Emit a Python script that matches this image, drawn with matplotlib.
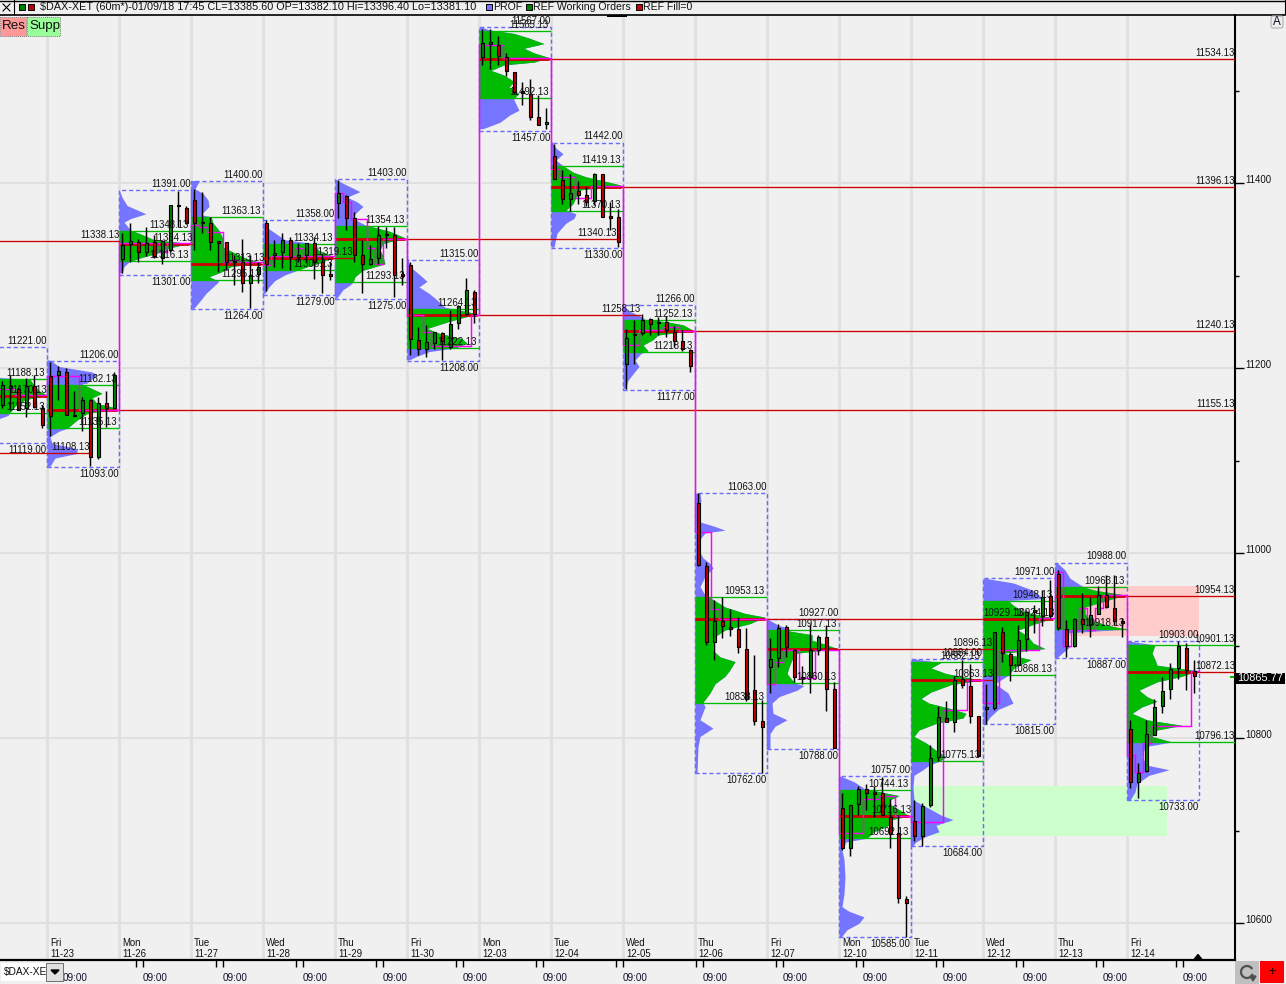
import numpy as np
import matplotlib
matplotlib.use("Agg")
import matplotlib.pyplot as plt
from matplotlib.patches import Rectangle, FancyBboxPatch
from matplotlib.ticker import MultipleLocator, FixedLocator, FixedFormatter
from matplotlib.transforms import ScaledTranslation

plt.rcParams['font.family'] = ['Liberation Sans', 'DejaVu Sans']

# ---------- session data ----------
DAYS = ["Fri\n11-23", "Mon\n11-26", "Tue\n11-27", "Wed\n11-28", "Thu\n11-29", "Fri\n11-30", "Mon\n12-03", "Tue\n12-04",
        "Wed\n12-05", "Thu\n12-06", "Fri\n12-07", "Mon\n12-10", "Tue\n12-11", "Wed\n12-12", "Thu\n12-13", "Fri\n12-14"]
HI = [11221, 11206, 11391, 11400, 11358, 11403, 11315, 11567, 11442, 11266, 11063, 10927, 10757, 10884, 10971, 10988, 10903]
LO = [11119, 11093, 11301, 11264, 11279, 11275, 11208, 11457, 11330, 11177, 10762, 10788, 10585, 10684, 10815, 10887, 10733]
VAH = [11188.13, 11182.13, 11348.13, 11363.13, 11334.13, 11354.13, 11264.13, 11565.13, 11419.13, 11252.13, 10953.13,
       10917.13, 10744.13, 10882.13, 10948.13, 10963.13, 10901.13]
POC = [11170.13, 11155.13, 11334.13, 11313.13, 11319.13, 11340.13, 11258.13, 11534.13, 11396.13, 11240.13, 10929.13,
       10896.13, 10716.13, 10863.13, 10929.13, 10954.13, 10872.13]
POC_LABEL = ["11170.13", "11155.13", "11334.13", "11313.13", "11319.13", "11340.13", "11258.13", "11534.13", "11396.13",
             "11240.13", "10929.13", "10896.13", "10716.13", "10863.13", "10924.13", "10954.13", "10872.13"]
POC_END = [0, 148.5, 18.25, 27.25, 38.25, 71.25, 74.25, 148.5, 148.5, 148.5, 122.1, 118.25, 108.1, 118.25, 126, 148.5, 148.5]
VAL = [11152.13, 11135.13, 11316.13, 11295.13, 11306.13, 11293.13, 11222.13, 11492.13, 11370.13, 11218.13, 10838.13,
       10860.13, 10692.13, 10775.13, 10868.13, 10918.13, 10796.13]
OLD_POC = [11338.13, 11108.13]
OLD_POC_END = [9.125, 5.375]
RES_ZONE = [126, 144, 10911, 10965]
SUP_ZONE = [108, 140, 10694, 10748.5]

# candles: open, high, low, close
C00 = [(11160, 11186, 11157, 11182), (11179, 11193, 11155, 11181), (11178, 11180, 11155, 11155),
       (11157, 11189, 11147, 11181), (11181, 11193, 11157, 11158), (11157, 11160, 11136, 11139)]
C01 = [(11192, 11207, 11127, 11148), (11193, 11202, 11166, 11197), (11196, 11200, 11149, 11150),
       (11148, 11175, 11148, 11150), (11152, 11169, 11132, 11166), (11166, 11167, 11094, 11104),
       (11104, 11169, 11102, 11163), (11163, 11175, 11137, 11157), (11157, 11196, 11157, 11193)]
C02 = [(11318, 11346, 11303, 11333), (11334, 11357, 11315, 11338), (11337, 11340, 11315, 11326),
       (11326, 11353, 11321, 11336), (11337, 11344, 11319, 11321), (11319, 11339, 11313, 11338),
       (11328, 11376, 11326, 11376), (11375, 11392, 11353, 11376), (11373, 11375, 11356, 11357)]
C03 = [(11382, 11394, 11328, 11357), (11357, 11391, 11346, 11358), (11357, 11364, 11328, 11337),
       (11337, 11337, 11304, 11336), (11337, 11337, 11306, 11315), (11316, 11322, 11290, 11315),
       (11315, 11340, 11282, 11292), (11292, 11322, 11265, 11301), (11302, 11315, 11292, 11310)]
C04 = [(11357, 11360, 11284, 11313), (11322, 11339, 11310, 11325), (11326, 11346, 11308, 11339),
       (11339, 11342, 11306, 11320), (11320, 11335, 11315, 11322), (11322, 11335, 11315, 11335),
       (11335, 11342, 11297, 11315), (11315, 11324, 11281, 11301), (11301, 11315, 11295, 11300)]
C05 = [(11379, 11404, 11362, 11390), (11386, 11387, 11349, 11363), (11362, 11369, 11315, 11322),
       (11322, 11339, 11281, 11313), (11313, 11333, 11312, 11318), (11319, 11354, 11313, 11344),
       (11345, 11353, 11330, 11344), (11344, 11353, 11277, 11301), (11301, 11319, 11290, 11300)]
C06 = [(11312, 11315, 11214, 11232), (11231, 11245, 11214, 11221), (11221, 11247, 11212, 11228),
       (11227, 11239, 11221, 11239), (11238, 11239, 11209, 11229), (11223, 11263, 11221, 11248),
       (11249, 11268, 11243, 11267), (11259, 11298, 11258, 11285), (11283, 11285, 11249, 11259)]
C07 = [(11537, 11567, 11528, 11552), (11551, 11567, 11524, 11552), (11550, 11559, 11528, 11538),
       (11537, 11541, 11516, 11521), (11520, 11520, 11497, 11499), (11499, 11509, 11485, 11498),
       (11497, 11513, 11468, 11472), (11472, 11495, 11463, 11463), (11464, 11481, 11459, 11466)]
C08 = [(11430, 11443, 11405, 11405), (11404, 11414, 11378, 11383), (11383, 11410, 11370, 11390),
       (11392, 11403, 11378, 11387), (11387, 11396, 11376, 11380), (11381, 11411, 11377, 11410),
       (11410, 11410, 11364, 11364), (11364, 11380, 11349, 11363), (11364, 11372, 11331, 11337)]
C09 = [(11205, 11242, 11178, 11233), (11236, 11252, 11205, 11237), (11238, 11259, 11236, 11252),
       (11253, 11254, 11236, 11248), (11249, 11256, 11236, 11250), (11250, 11257, 11234, 11241),
       (11239, 11246, 11223, 11230), (11229, 11241, 11219, 11221), (11220, 11221, 11196, 11202)]
C10 = [(11054, 11065, 10986, 10987), (10986, 10991, 10901, 10904), (10904, 10949, 10885, 10927),
       (10927, 10953, 10908, 10921), (10920, 10940, 10911, 10918), (10918, 10931, 10892, 10899),
       (10897, 10919, 10840, 10842), (10852, 10890, 10814, 10819), (10819, 10841, 10762, 10812)]
C11 = [(10877, 10908, 10849, 10886), (10887, 10924, 10877, 10919), (10920, 10922, 10888, 10899),
       (10896, 10897, 10861, 10866), (10866, 10878, 10859, 10865), (10866, 10924, 10849, 10896),
       (10896, 10912, 10890, 10909), (10909, 10922, 10829, 10853), (10853, 10861, 10789, 10789)]
C12 = [(10725, 10741, 10679, 10681), (10681, 10728, 10673, 10728), (10729, 10748, 10717, 10745),
       (10745, 10751, 10722, 10741), (10741, 10748, 10715, 10740), (10741, 10758, 10717, 10717),
       (10715, 10734, 10681, 10697), (10698, 10717, 10622, 10627), (10626, 10630, 10585, 10622)]
C13 = [(10711, 10733, 10689, 10694), (10694, 10730, 10684, 10727), (10728, 10793, 10726, 10779),
       (10780, 10835, 10775, 10823), (10822, 10840, 10818, 10818), (10818, 10867, 10807, 10863),
       (10864, 10885, 10854, 10858), (10857, 10880, 10817, 10824), (10824, 10824, 10780, 10781)]
C14 = [(10832, 10859, 10816, 10833), (10833, 10915, 10831, 10915), (10915, 10920, 10883, 10892),
       (10891, 10893, 10862, 10879), (10879, 10923, 10879, 10906), (10907, 10939, 10894, 10937),
       (10937, 10944, 10914, 10938), (10932, 10960, 10921, 10953), (10954, 10971, 10930, 10932)]
C15 = [(10978, 10982, 10917, 10919), (10918, 10928, 10888, 10900), (10900, 10930, 10899, 10929),
       (10929, 10957, 10914, 10924), (10924, 10953, 10910, 10933), (10934, 10965, 10934, 10955),
       (10955, 10977, 10941, 10942), (10941, 10977, 10923, 10927), (10927, 10930, 10909, 10925)]
C16 = [(10810, 10820, 10746, 10753), (10753, 10773, 10735, 10763), (10765, 10820, 10764, 10805),
       (10804, 10843, 10804, 10834), (10835, 10866, 10827, 10851), (10853, 10881, 10843, 10875),
       (10876, 10905, 10864, 10900), (10898, 10903, 10852, 10874), (10873, 10885, 10849, 10867)]
CANDLES = [C00, C01, C02, C03, C04, C05, C06, C07, C08, C09, C10, C11, C12, C13, C14, C15, C16]

# developing point of control, one value per bar
D00 = [11178, 11178, 11178, 11178, 11178, 11171, 11171, 11171, 11171]
D01 = [11192, 11192, 11192, 11192, 11155, 11155, 11155, 11155, 11155]
D02 = [11335, 11335, 11335, 11335, 11335, 11326, 11335, 11335, 11335]
D03 = [11355, 11353, 11347, 11347, 11315, 11317, 11315, 11315, 11315]
D04 = [11312, 11321, 11321, 11321, 11330, 11321, 11321, 11321, 11321]
D05 = [11389, 11380, 11361, 11361, 11330, 11313, 11340, 11340, 11340]
D06 = [11258, 11258, 11239, 11224, 11224, 11224, 11224, 11224, 11258]
D07 = [11549, 11549, 11549, 11535, 11535, 11535, 11535, 11535, 11535]
D08 = [11416, 11407, 11407, 11384, 11384, 11397, 11397, 11397, 11397]
D09 = [11225, 11225, 11241, 11241, 11241, 11245, 11245, 11240, 11240]
D10 = [11023, 11023, 10940, 10929, 10929, 10929, 10929, 10929, 10929]
D11 = [10859, 10883, 10896, 10896, 10865, 10865, 10896, 10896, 10896]
D12 = [10698, 10698, 10698, 10734, 10734, 10738, 10738, 10716, 10716]
D13 = [10709, 10709, 10709, 10709, 10831, 10831, 10831, 10863, 10863]
D14 = [10838, 10838, 10895, 10895, 10895, 10895, 10895, 10930, 10930]
D15 = [10980, 10900, 10917, 10941, 10917, 10941, 10955, 10955, 10955]
D16 = [10782, 10764, 10795, 10813, 10813, 10813, 10813, 10813, 10873]
DPOC = [D00, D01, D02, D03, D04, D05, D06, D07, D08, D09, D10, D11, D12, D13, D14, D15, D16]

# volume profiles: price level and volume at that level
P00p = [11221, 11200, 11190, 11188, 11180, 11175, 11171, 11166, 11159, 11152, 11149, 11146, 11130, 11119]
P00v = [1, 15, 25, 55, 60, 65, 72, 50, 40, 35, 33, 25, 10, 1]
P01p = [11209, 11202, 11196, 11193, 11184, 11183, 11178, 11173, 11168, 11162, 11157, 11151, 11144, 11135, 11132, 11126, 11119, 11113, 11108, 11103, 11094]
P01v = [3, 12, 45, 50, 40, 35, 45, 55, 45, 50, 70, 40, 30, 20, 12, 3, 5, 30, 30, 8, 3]
P02p = [11393, 11385, 11376, 11367, 11362, 11358, 11349, 11346, 11339, 11335, 11330, 11324, 11319, 11315, 11310, 11303]
P02v = [0, 3, 8, 27, 12, 5, 12, 20, 35, 70, 50, 37, 20, 10, 5, 3]
P03p = [11403, 11402, 11394, 11389, 11382, 11375, 11366, 11364, 11357, 11349, 11340, 11331, 11324, 11319, 11314, 11310, 11304, 11299, 11294, 11288, 11281, 11274, 11265]
P03v = [5, 8, 4, 12, 17, 18, 10, 20, 22, 28, 32, 32, 45, 55, 70, 40, 30, 18, 28, 22, 15, 10, 3]
P04p = [11360, 11353, 11344, 11339, 11335, 11328, 11321, 11315, 11310, 11305, 11301, 11295, 11288, 11281]
P04v = [0, 3, 15, 22, 50, 55, 70, 60, 45, 32, 22, 12, 6, 2]
P05p = [11405, 11400, 11391, 11385, 11380, 11375, 11367, 11362, 11355, 11348, 11341, 11335, 11328, 11321, 11313, 11306, 11299, 11293, 11290, 11285, 11276]
P05v = [0, 8, 25, 12, 22, 28, 20, 18, 30, 55, 70, 48, 45, 48, 50, 28, 20, 18, 15, 8, 2]
P06p = [11318, 11310, 11299, 11294, 11288, 11281, 11274, 11266, 11259, 11250, 11243, 11238, 11232, 11227, 11222, 11218, 11213, 11209]
P06v = [1, 3, 15, 20, 12, 22, 30, 38, 70, 40, 20, 32, 55, 60, 48, 22, 10, 2]
P07p = [11569, 11566, 11562, 11557, 11551, 11546, 11541, 11536, 11531, 11528, 11522, 11517, 11510, 11504, 11497, 11492, 11490, 11479, 11474, 11466, 11459]
P07v = [2, 10, 35, 50, 65, 45, 55, 70, 55, 25, 12, 25, 35, 30, 40, 35, 35, 40, 31, 21, 4]
P08p = [11445, 11438, 11432, 11425, 11419, 11412, 11407, 11402, 11398, 11393, 11385, 11378, 11371, 11367, 11362, 11357, 11346, 11331]
P08v = [1, 5, 12, 5, 12, 22, 35, 55, 70, 30, 25, 22, 15, 25, 23, 15, 6, 3]
P09p = [11268, 11261, 11256, 11253, 11250, 11247, 11241, 11236, 11231, 11225, 11219, 11216, 11209, 11202, 11194, 11187, 11178]
P09v = [0, 8, 18, 22, 45, 60, 70, 35, 30, 20, 25, 18, 12, 16, 10, 5, 2]
P10p = [11065, 11056, 11043, 11034, 11029, 11025, 11022, 11014, 11007, 10995, 10989, 10984, 10975, 10964, 10955, 10950, 10942, 10935, 10931, 10924, 10917, 10910, 10903, 10895, 10888, 10883, 10874, 10867, 10859, 10849, 10839, 10834, 10820, 10811, 10802, 10791, 10762]
P10v = [5, 6, 2, 5, 20, 30, 10, 4, 2, 8, 15, 18, 10, 5, 10, 18, 30, 50, 70, 55, 30, 20, 18, 18, 25, 40, 35, 30, 20, 15, 8, 10, 5, 18, 5, 3, 2]
P11p = [10928, 10922, 10919, 10916, 10912, 10906, 10901, 10897, 10892, 10885, 10877, 10870, 10863, 10859, 10857, 10852, 10845, 10838, 10827, 10820, 10813, 10805, 10789]
P11v = [2, 12, 22, 22, 45, 45, 60, 70, 30, 25, 22, 20, 25, 30, 37, 30, 12, 5, 6, 20, 8, 3, 3]
P12p = [10759, 10753, 10746, 10742, 10738, 10733, 10728, 10723, 10716, 10712, 10706, 10699, 10692, 10688, 10679, 10669, 10650, 10632, 10618, 10613, 10607, 10600, 10593, 10585]
P12v = [2, 15, 25, 42, 60, 50, 52, 60, 70, 52, 50, 35, 28, 7, 3, 5, 6, 5, 3, 10, 25, 20, 8, 2]
P13p = [10886, 10882, 10876, 10870, 10867, 10863, 10858, 10850, 10843, 10838, 10832, 10827, 10822, 10816, 10809, 10802, 10795, 10787, 10780, 10775, 10771, 10766, 10760, 10748, 10733, 10723, 10717, 10712, 10706, 10699, 10694, 10688, 10684]
P13v = [2, 30, 20, 35, 50, 70, 40, 20, 10, 18, 40, 55, 52, 25, 8, 3, 15, 25, 35, 28, 18, 12, 3, 2, 3, 20, 30, 42, 25, 28, 15, 5, 2]
P14p = [10973, 10968, 10960, 10951, 10949, 10944, 10937, 10930, 10923, 10917, 10910, 10903, 10897, 10892, 10885, 10877, 10868, 10859, 10849, 10838, 10831, 10823, 10815]
P14v = [2, 30, 50, 60, 25, 30, 40, 70, 50, 35, 45, 50, 62, 20, 48, 32, 25, 12, 25, 30, 15, 7, 2]
P15p = [10990, 10982, 10973, 10966, 10963, 10960, 10955, 10950, 10942, 10935, 10928, 10923, 10918, 10914, 10906, 10899, 10892, 10887]
P15v = [2, 10, 15, 25, 30, 40, 70, 55, 30, 30, 35, 50, 70, 12, 10, 15, 7, 2]
P16p = [10905, 10901, 10892, 10885, 10879, 10873, 10867, 10861, 10852, 10845, 10840, 10834, 10827, 10820, 10814, 10809, 10802, 10796, 10791, 10780, 10771, 10766, 10760, 10751, 10742, 10733]
P16v = [2, 28, 25, 28, 30, 70, 55, 30, 12, 20, 30, 15, 5, 20, 55, 30, 25, 45, 18, 15, 20, 42, 22, 10, 8, 3]
PROF_P = [P00p, P01p, P02p, P03p, P04p, P05p, P06p, P07p, P08p, P09p, P10p, P11p, P12p, P13p, P14p, P15p, P16p]
PROF_V = [P00v, P01v, P02v, P03v, P04v, P05v, P06v, P07v, P08v, P09v, P10v, P11v, P12v, P13v, P14v, P15v, P16v]

YTICKS = [10600, 10800, 11000, 11200, 11400]
LAST_PRICE = 10865.77
HEADER = "$DAX-XET (60m*)-01/09/18 17:45 CL=13385.60 OP=13382.10 Hi=13396.40 Lo=13381.10"

# ---------- styling ----------
BG = '#f0f0f0'
GRID = '#e0e0e0'
RED = '#cc0000'
GREEN = '#00bb00'
BLUE = '#7575ff'
BOX = '#6a6aff'
MAG = '#ff00ff'
CUP = '#008000'
CDN = '#c00000'
FS = 6.9
TXT = '#101010'

W, H = 1286, 984
fig = plt.figure(figsize=(W / 100, H / 100), dpi=100, facecolor=BG)
ax = fig.add_axes([0, (H - 960) / H, 1235 / W, 945 / H], facecolor=BG)
ax.set_xlim(-47 / 8, 148.5)
ax.set_ylim(11000 - 406.7 / 0.925, 11000 + 538.3 / 0.925)

n_sess = len(HI)
starts = [(i - 1) * 9 for i in range(n_sess)]

# grid
for s in starts[1:]:
    ax.axvline(s, color=GRID, lw=2.0, zorder=0.5)
for y in YTICKS:
    ax.axhline(y, color=GRID, lw=1.4, zorder=0.5)

# zones
ax.add_patch(Rectangle((RES_ZONE[0], RES_ZONE[2]), RES_ZONE[1] - RES_ZONE[0], RES_ZONE[3] - RES_ZONE[2],
                       fc='#ffcccc', ec='none', zorder=1))
ax.add_patch(Rectangle((SUP_ZONE[0], SUP_ZONE[2]), SUP_ZONE[1] - SUP_ZONE[0], SUP_ZONE[3] - SUP_ZONE[2],
                       fc='#ccffcc', ec='none', zorder=1))


def label(x, y, s, dy, ha='right', dx=0):
    ax.annotate(s, xy=(x, y), xytext=(dx, dy), textcoords='offset pixels', ha=ha, va='center',
                fontsize=FS, color=TXT, zorder=20, annotation_clip=False)


mx, my = [], []
for i in range(n_sess):
    s = starts[i]
    e = s + 9
    p = np.array(PROF_P[i], float)
    v = np.array(PROF_V[i], float) / 8.0
    # profile
    ax.fill_betweenx(p, s, s + v, color=BLUE, lw=0, zorder=3)
    g = ax.fill_betweenx(p, s, s + v, color=GREEN, lw=0, zorder=3.1)
    clip = Rectangle((s, VAL[i]), 9, VAH[i] - VAL[i], transform=ax.transData)
    g.set_clip_path(clip)
    # session box
    ax.add_patch(Rectangle((s, LO[i]), 9, HI[i] + 2 - LO[i], fill=False, ec=BOX, lw=1.0,
                           ls=(0, (3, 2)), zorder=4, snap=True))
    # value area
    vend = 148.5 if i == n_sess - 1 else e
    ax.hlines([VAH[i], VAL[i]], s, vend, color=GREEN, lw=0.95, zorder=4, snap=True)
    # point of control
    if POC_END[i] > e:
        ax.hlines(POC[i], s, POC_END[i], color=RED, lw=0.95, zorder=4.2, snap=True)
    ax.hlines(POC[i], s, s + v.max(), color=RED, lw=2.0, zorder=4.3, snap=True)
    # developing POC as a step path
    for k, val in enumerate(DPOC[i]):
        mx += [s + k, s + k + 1]
        my += [val, val]
    # labels
    lx = e - 0.05
    label(lx, HI[i], f"{HI[i]:.2f}", 8)
    label(lx, LO[i], f"{LO[i]:.2f}", -7)
    vx = 148.5 if i == n_sess - 1 else e - 0.3
    label(vx, VAH[i], f"{VAH[i]:.2f}", 6)
    label(vx, VAL[i], f"{VAL[i]:.2f}", 6)
    label(POC_END[i], POC[i], POC_LABEL[i], 6)
    # candles
    first = 3 if len(CANDLES[i]) == 6 else 0
    for k, (o, h, l, c) in enumerate(CANDLES[i]):
        x = s + first + k + 0.41
        ax.vlines(x, l, h, color='black', lw=1.05, zorder=8, snap=True)
        up = c >= o
        ax.bar(x, max(abs(c - o), 1.5), bottom=min(o, c), width=0.42, color=CUP if up else CDN,
               ec='black', lw=0.8, zorder=9)

ax.plot(mx, my, color=MAG, lw=1.05, zorder=6, solid_joinstyle='miter', snap=True)

# older POC lines
for price, end in zip(OLD_POC, OLD_POC_END):
    ax.hlines(price, -12, end, color=RED, lw=0.95, zorder=4.2, snap=True)
    label(end, price, f"{price:.2f}", 6)

# axes
for sp in ('top', 'left'):
    ax.spines[sp].set_visible(False)
ax.spines['right'].set_linewidth(1.5)
ax.spines['bottom'].set_linewidth(1.6)
ax.yaxis.tick_right()
ax.yaxis.set_major_locator(FixedLocator(YTICKS))
ax.yaxis.set_major_formatter(FixedFormatter([str(t) for t in YTICKS]))
ax.yaxis.set_minor_locator(MultipleLocator(100))
ax.tick_params(axis='y', which='major', length=6.5, width=1.0, labelsize=FS, pad=1.2, labelcolor=TXT)
ax.tick_params(axis='y', which='minor', length=3.0, width=1.0)
yoff = ScaledTranslation(0, 4 / 100, fig.dpi_scale_trans)
for t in ax.get_yticklabels():
    t.set_transform(t.get_transform() + yoff)

tick_pos = []
for k in range(15):
    tick_pos += [11.09 + 10 * k, 12.04 + 10 * k]
lab_pos = [3.5 + 10 * k for k in range(15)]
ax.xaxis.set_major_locator(FixedLocator(tick_pos))
ax.xaxis.set_major_formatter(FixedFormatter([''] * len(tick_pos)))
ax.xaxis.set_minor_locator(FixedLocator(lab_pos))
ax.xaxis.set_minor_formatter(FixedFormatter(['09:00'] * len(lab_pos)))
ax.tick_params(axis='x', which='major', length=5, width=1.0)
ax.tick_params(axis='x', which='minor', length=0, pad=9.5, labelsize=FS + 0.2, labelcolor='#101030')

# day labels
trans = ax.get_xaxis_transform()
for i, d in enumerate(DAYS):
    a, b = d.split('\n')
    x = starts[i + 1]
    ax.annotate(a, xy=(x, 0), xycoords=trans, xytext=(3, 17), textcoords='offset pixels', fontsize=FS, color=TXT, va='center', zorder=20)
    ax.annotate(b, xy=(x, 0), xycoords=trans, xytext=(3, 6), textcoords='offset pixels', fontsize=FS, color=TXT, va='center', zorder=20)

# ---------- window chrome (pixel coordinates) ----------
ui = fig.add_axes([0, 0, 1, 1], facecolor='none', zorder=10)
ui.set_xlim(0, W)
ui.set_ylim(H, 0)
ui.axis('off')


def rect(x, y, w, h, fc, ec='none', lw=0.7, ls='-', z=1):
    ui.add_patch(Rectangle((x, y), w, h, fc=fc, ec=ec, lw=lw, ls=ls, zorder=z))


rect(0, 0, W, 14, BG)
ui.plot([0, 1285], [0.5, 0.5], color='black', lw=1.0, zorder=2)
ui.plot([0, 1285], [14.5, 14.5], color='black', lw=1.2, zorder=2)
ui.plot([1285, 1285], [0, 14], color='black', lw=0.8, zorder=2)
ui.plot([13.5, 13.5], [0, 14], color='black', lw=0.8, zorder=2)
ui.plot([3, 10], [4, 11], color='black', lw=0.8, zorder=2)
ui.plot([3, 10], [11, 4], color='black', lw=0.8, zorder=2)
rect(19, 4, 6, 6, '#008000', 'black')
rect(28, 4, 6, 6, '#c00000', 'black')
ui.text(40, 7.5, HEADER, fontsize=7.85, va='center', color=TXT, zorder=3)
rect(486, 4, 6, 6, BLUE, 'black')
ui.text(493, 7.5, "PROF", fontsize=7.6, va='center', color=TXT, zorder=3)
rect(526, 4, 6, 6, '#008000', 'black')
ui.text(533, 7.5, "REF Working Orders", fontsize=7.6, va='center', color=TXT, zorder=3)
rect(636, 4, 6, 6, '#d00000', 'black')
ui.text(643, 7.5, "REF Fill=0", fontsize=7.6, va='center', color=TXT, zorder=3)
rect(607, 15, 20, 1.5, 'black')

# auto-scale button
ui.add_patch(FancyBboxPatch((1271, 16), 12, 12, boxstyle='round,pad=0,rounding_size=2',
                            fc='#ececec', ec='#b0b0b0', lw=0.8, zorder=3))
ui.text(1277, 22, "A", fontsize=8.4, ha='center', va='center', color='#101030', zorder=4)

rect(0, 17, 26, 19, '#ff9999', '#808080', ls=(0, (1, 1)))
rect(27, 17, 33, 19, '#99ff99', '#808080', ls=(0, (1, 1)))
ui.text(2, 26, "Res", fontsize=9.6, va='center', color=TXT, zorder=3)
ui.text(29, 26, "Supp", fontsize=9.6, va='center', color=TXT, zorder=3)

# last price tag
rect(1236, 672.5, 49, 11, 'black', z=4)
ui.text(1260.5, 678, f"{LAST_PRICE:.2f}", fontsize=7.9, va='center', ha='center', color='white', zorder=5)
rect(1230, 676, 4, 1.5, GREEN, z=4)

# combo box
rect(0, 962, 64, 20, BG, z=4)
rect(1, 963, 45, 18, 'white', z=5)
rect(46, 963, 17, 18, '#e0e0e0', '#707070', z=5)
ui.fill([51, 59, 55], [970, 970, 974], color='black', zorder=6)
ui.text(4, 972, "$DAX-XE", fontsize=7.3, va='center', color=TXT, zorder=6, clip_on=True)

# scroll marker and buttons
ui.fill([1194, 1202, 1198], [959.5, 959.5, 954.5], color='black', zorder=4)
rect(1235, 961, 24, 23, '#c0c0c0', z=4)
rect(1260, 961, 24, 22, '#ff0000', z=4)
ui.text(1272, 971.5, "+", fontsize=9, ha='center', va='center', color='black', zorder=5)
th = np.linspace(0.5, 5.6, 30)
ui.plot(1247 + 6 * np.cos(th), 972 + 6 * np.sin(th), color='#505050', lw=1.6, zorder=5)
ui.fill([1250, 1256, 1253], [976, 976, 981], color='#505050', zorder=5)

fig.savefig('out.png', dpi=100, facecolor=BG)
